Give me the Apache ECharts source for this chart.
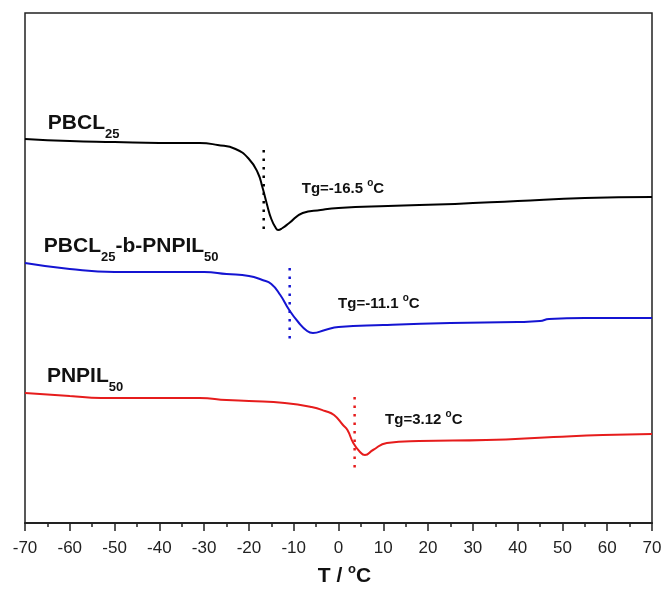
<!DOCTYPE html>
<html><head><meta charset="utf-8">
<script src="https://cdn.jsdelivr.net/npm/echarts@6/dist/echarts.min.js"></script>
<style>html,body{margin:0;padding:0;background:#fff}#c{width:666px;height:596px}</style>
</head><body><div id="c"></div>
<script>
// Temperature (°C) and heat-flow (arbitrary units, offset curves)
const pbclT = [-70, -60, -50, -40, -31, -27, -23, -20, -18, -17, -16, -15, -14, -13.5, -12.5, -11, -8, -4, 0, 11, 26, 40, 55, 70];
const pbclY = [38.4, 38.2, 38.1, 38.0, 38.0, 37.8, 37.4, 36.4, 35.0, 33.6, 31.9, 30.4, 29.5, 29.3, 29.5, 30.0, 31.0, 31.3, 31.5, 31.7, 31.9, 32.2, 32.5, 32.6];

const blockT = [-70, -60, -50, -40, -30, -25, -20, -17, -15, -13, -11, -9, -7, -5.7, -3, 0, 10, 25, 40, 45, 47, 55, 70];
const blockY = [26.0, 25.4, 25.1, 25.1, 25.1, 24.9, 24.7, 24.3, 23.9, 22.8, 21.3, 20.1, 19.2, 19.0, 19.3, 19.6, 19.8, 20.0, 20.1, 20.2, 20.4, 20.5, 20.5];

const pnpilT = [-70, -60, -53, -40, -31, -25, -20, -12, -6, -3, -1, 1, 2, 3.3, 4.8, 5.9, 7.7, 10.8, 18, 33, 48, 59, 70];
const pnpilY = [13.0, 12.7, 12.5, 12.5, 12.5, 12.3, 12.2, 12.0, 11.6, 11.2, 10.8, 9.8, 9.3, 8.0, 7.1, 6.8, 7.3, 8.0, 8.2, 8.3, 8.6, 8.8, 8.9];

// Tg marker lines: x position and vertical extent
const tgX = [-16.7, -10.9, 3.6];
const tgTop = [37.3, 25.5, 12.6];
const tgBottom = [29.1, 18.1, 5.3];
const tgText = ['Tg=-16.5 ', 'Tg=-11.1 ', 'Tg=3.12 '];
const tgLabelPos = [[-8.2, 33.6], [-0.1, 22.1], [10.4, 10.5]];

const names = [['PBCL', '25', ''], ['PBCL', '25', '-b-PNPIL', '50'], ['PNPIL', '50', '']];
const namePos = [[-64.9, 39.65], [-65.8, 27.3], [-65.1, 14.35]];

const colors = ['#000000', '#1414d2', '#e61c1c'];

const FF = '"Liberation Sans", Arial, sans-serif';
const zip = (a, b) => a.map((v, i) => [v, b[i]]);

const nameRich = {
  z: {fontSize: 10, lineHeight: 28, width: 0, verticalAlign: 'top'},
  m: {fontSize: 21, fontWeight: 'bold', fontFamily: FF, color: '#111', lineHeight: 22, verticalAlign: 'top'},
  s: {fontSize: 13, fontWeight: 'bold', fontFamily: FF, color: '#111', lineHeight: 14, verticalAlign: 'bottom'}
};
const tgRich = {
  t: {fontSize: 15, fontWeight: 'bold', fontFamily: FF, color: '#111', lineHeight: 18, verticalAlign: 'bottom'},
  o: {fontSize: 10, fontWeight: 'bold', fontFamily: FF, color: '#111', lineHeight: 10, verticalAlign: 'top'}
};

function nameFormatter(parts) {
  let s = '{z|\u200b}{m|' + parts[0] + '}{s|' + parts[1] + '}';
  if (parts[2]) s += '{m|' + parts[2] + '}';
  if (parts[3]) s += '{s|' + parts[3] + '}';
  return s;
}

const curveData = [zip(pbclT, pbclY), zip(blockT, blockY), zip(pnpilT, pnpilY)];
const series = [];
curveData.forEach((d, i) => {
  series.push({
    type: 'line', data: d, smooth: 0.5, showSymbol: false, silent: true,
    lineStyle: {color: colors[i], width: 2},
    markPoint: {
      symbol: 'circle', symbolSize: 0, silent: true, animation: false,
      data: [
        {coord: namePos[i], label: {show: true, position: 'right', distance: 0, formatter: nameFormatter(names[i]), rich: nameRich}},
        {coord: tgLabelPos[i], label: {show: true, position: 'right', distance: 0, formatter: '{t|' + tgText[i] + '}{o|o}{t|C}', rich: tgRich}}
      ]
    }
  });
  series.push({
    type: 'line', data: [[tgX[i], tgTop[i]], [tgX[i], tgBottom[i]]], showSymbol: false, silent: true,
    lineStyle: {color: colors[i], width: 2.5, type: [2.5, 6]}
  });
});

const chart = echarts.init(document.getElementById('c'), null, {renderer: 'canvas'});
chart.setOption({
  animation: false,
  backgroundColor: '#fff',
  grid: {left: 25, right: 14, top: 13, bottom: 73, show: true, borderColor: '#222', borderWidth: 1.5},
  xAxis: {
    type: 'value', min: -70, max: 70, interval: 10,
    name: '{t|T / }{o|o}{t|C}', nameLocation: 'middle', nameGap: 40,
    nameTextStyle: {padding: [0, 0, 0, 12], rich: {
      t: {fontSize: 21, fontWeight: 'bold', fontFamily: FF, color: '#111', lineHeight: 24, verticalAlign: 'bottom'},
      o: {fontSize: 13, fontWeight: 'bold', fontFamily: FF, color: '#111', lineHeight: 13, verticalAlign: 'top'}
    }},
    axisLine: {show: true, lineStyle: {color: '#222', width: 2}},
    axisTick: {show: true, inside: false, length: 8, lineStyle: {color: '#222', width: 1.5}},
    minorTick: {show: true, splitNumber: 2, length: 4, lineStyle: {color: '#222', width: 1.5}},
    axisLabel: {fontSize: 17, fontFamily: FF, color: '#222', margin: 17},
    splitLine: {show: false}
  },
  yAxis: {
    type: 'value', min: 0, max: 51,
    axisLine: {show: false}, axisTick: {show: false}, axisLabel: {show: false}, splitLine: {show: false}
  },
  series: series
});
</script></body></html>
